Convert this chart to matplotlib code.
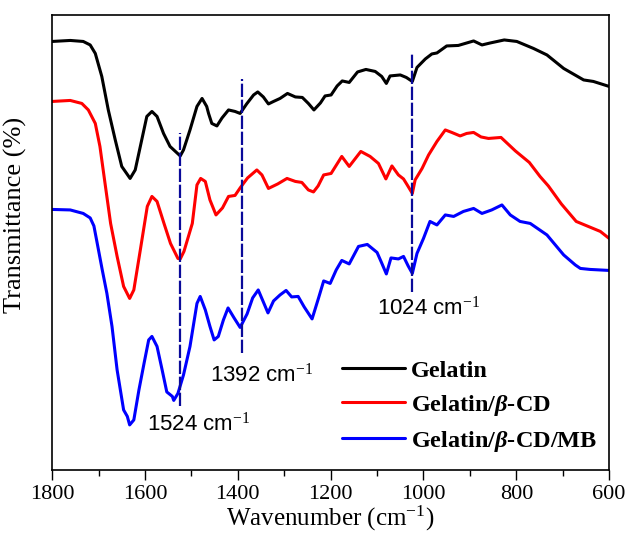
import numpy as np
import matplotlib
matplotlib.use("Agg")
import matplotlib.pyplot as plt
from matplotlib.ticker import MultipleLocator

plt.rcParams['font.family'] = ['Liberation Serif', 'DejaVu Serif']
plt.rcParams['mathtext.fontset'] = 'custom'
plt.rcParams['mathtext.rm'] = 'Liberation Serif'
plt.rcParams['mathtext.it'] = 'Liberation Serif:italic:bold'
plt.rcParams['mathtext.bf'] = 'Liberation Serif:bold'

# FTIR spectra (transmittance in arbitrary, offset units)
wn_gel = [1800, 1761, 1733, 1718, 1707, 1693, 1679, 1664, 1650, 1632, 1621, 1610,
          1596, 1585, 1574, 1560, 1546, 1524, 1517, 1503, 1488, 1477, 1467, 1463,
          1456, 1445, 1434, 1420, 1406, 1395, 1381, 1366, 1357, 1345, 1334, 1323,
          1309, 1293, 1276, 1261, 1248, 1236, 1222, 1212, 1199, 1186, 1175, 1160,
          1142, 1124, 1104, 1090, 1080, 1072, 1050, 1037, 1024, 1014, 996, 982,
          971, 950, 925, 914, 892, 874, 856, 826, 799, 763, 734, 698, 655, 634, 600]
t_gel = [85.7, 85.9, 85.7, 85.0, 83.3, 78.7, 72.0, 66.0, 60.7, 58.3, 60.0, 64.7,
         70.7, 71.7, 70.7, 67.3, 64.7, 62.8, 64.0, 68.0, 72.7, 74.3, 72.7, 71.3,
         69.3, 68.8, 70.4, 72.0, 71.7, 71.3, 73.2, 75.0, 75.6, 74.6, 73.2, 73.7,
         74.3, 75.3, 74.6, 74.5, 73.3, 72.0, 73.4, 74.8, 75.0, 76.8, 77.8, 77.5,
         79.6, 80.1, 79.7, 78.7, 77.3, 78.8, 79.0, 78.5, 77.7, 80.5, 82.2, 83.2,
         83.4, 84.8, 84.9, 85.2, 85.8, 85.0, 85.4, 86.0, 85.7, 84.3, 83.0, 80.3,
         78.0, 77.7, 76.7]

wn_cd = [1800, 1761, 1736, 1722, 1707, 1697, 1686, 1674, 1660, 1646, 1633, 1624,
         1610, 1595, 1585, 1574, 1559, 1545, 1529, 1524, 1516, 1498, 1488, 1480,
         1470, 1460, 1447, 1433, 1420, 1406, 1395, 1379, 1359, 1348, 1334, 1314,
         1294, 1276, 1262, 1248, 1237, 1227, 1215, 1199, 1176, 1160, 1135, 1115,
         1097, 1081, 1068, 1054, 1043, 1035, 1024, 1018, 1003, 989, 971, 953,
         939, 921, 907, 892, 876, 860, 833, 802, 772, 749, 731, 703, 671, 645,
         619, 600]
t_cd = [73.7, 73.9, 73.3, 72.0, 69.3, 64.7, 57.3, 49.3, 42.7, 36.7, 34.3, 36.0,
        44.0, 52.7, 54.7, 53.7, 49.3, 45.3, 42.3, 42.2, 43.7, 49.3, 57.0, 58.3,
        57.7, 54.0, 51.0, 52.4, 54.7, 54.9, 56.4, 58.4, 60.0, 59.0, 56.3, 57.2,
        58.3, 57.7, 57.5, 56.0, 55.6, 56.8, 59.0, 59.3, 62.7, 60.7, 63.7, 62.7,
        61.3, 58.2, 60.8, 59.0, 58.2, 57.0, 55.3, 58.0, 60.3, 63.0, 65.7, 68.0,
        67.5, 66.8, 67.3, 67.5, 66.6, 66.3, 66.5, 63.8, 61.5, 58.7, 56.8, 53.2,
        49.7, 48.7, 47.7, 46.3]

wn_mb = [1800, 1761, 1733, 1718, 1710, 1703, 1692, 1682, 1671, 1660, 1653, 1646,
         1638, 1633, 1624, 1613, 1602, 1592, 1585, 1574, 1563, 1553, 1541, 1538,
         1529, 1517, 1503, 1488, 1481, 1470, 1460, 1451, 1442, 1431, 1421, 1408,
         1395, 1380, 1368, 1356, 1345, 1335, 1323, 1309, 1296, 1284, 1270, 1257,
         1240, 1226, 1215, 1201, 1188, 1176, 1160, 1140, 1121, 1100, 1091, 1080,
         1070, 1054, 1043, 1033, 1024, 1014, 1000, 986, 971, 953, 935, 914, 892,
         874, 853, 831, 813, 792, 770, 734, 698, 673, 662, 641, 600]
t_mb = [52.1, 52.0, 51.3, 50.4, 48.8, 45.4, 40.0, 35.3, 28.7, 20.0, 16.0, 12.0,
        10.7, 9.0, 10.0, 16.0, 21.3, 26.0, 26.7, 24.7, 20.0, 15.6, 14.7, 13.9,
        15.3, 19.0, 24.7, 33.3, 34.7, 32.0, 28.7, 26.0, 26.7, 30.0, 32.4, 30.4,
        28.5, 31.2, 34.4, 36.0, 33.6, 31.4, 33.8, 35.0, 35.9, 34.6, 34.7, 32.6,
        30.2, 34.4, 37.8, 37.3, 40.0, 41.9, 41.2, 44.7, 45.1, 43.5, 41.6, 39.2,
        42.4, 42.2, 42.7, 40.8, 39.3, 43.3, 46.3, 49.7, 49.0, 51.0, 50.7, 51.7,
        52.3, 51.3, 52.0, 53.0, 51.0, 49.7, 49.3, 47.0, 43.0, 41.0, 40.3, 40.1,
        39.9]

labels = ['Gelatin', r'Gelatin/$\beta$-CD', r'Gelatin/$\beta$-CD/MB']
colors = ['black', 'red', 'blue']

# marked bands: position, line top, line bottom, label spot
peaks = [1524, 1392, 1024]
peak_top = [67.4, 78.2, 83.2]
peak_bottom = [12.8, 23.4, 35.6]
peak_text_x = [1595, 1460, 1100]
peak_text_y = [7.8, 17.6, 31.0]

fig = plt.figure(figsize=(6.28, 5.34), dpi=100)
ax = fig.add_axes([0.083, 0.12, 0.887, 0.852])

for x, y, c, lab in zip([wn_gel, wn_cd, wn_mb], [t_gel, t_cd, t_mb], colors, labels):
    ax.plot(x, y, color=c, lw=2.2, label=lab, solid_joinstyle='round',
            solid_capstyle='round')

for p, y0, y1, tx, ty in zip(peaks, peak_top, peak_bottom, peak_text_x, peak_text_y):
    ax.plot([p, p], [y1, y0], color='#0A0A9A', lw=1.6, linestyle=(0, (6, 1.2)))
    ax.text(tx, ty, '%d cm$^{-1}$' % p, family=['Liberation Sans', 'DejaVu Sans'],
            fontsize=16, ha='left', va='baseline')

ax.set_xlim(1800, 600)
ax.set_ylim(0, 91)
ax.xaxis.set_major_locator(MultipleLocator(200))
ax.xaxis.set_minor_locator(MultipleLocator(100))
ax.set_yticks([])
ax.tick_params(axis='x', which='major', direction='out', length=7, width=1, labelsize=16)
ax.tick_params(axis='x', which='minor', direction='out', length=4, width=1)
for s in ax.spines.values():
    s.set_linewidth(1.2)

ax.set_xlabel('Wavenumber (cm$^{-1}$)', fontsize=18, labelpad=0)
ax.set_ylabel('Transmittance (%)', fontsize=19)
ax.yaxis.set_label_coords(-0.045, 0.56)

ax.legend(loc='center left', bbox_to_anchor=(0.52, 0.139), frameon=False,
          prop={'weight': 'bold', 'size': 17.5}, borderpad=0, borderaxespad=0,
          handlelength=2.6, handletextpad=0.25, labelspacing=0.45)

fig.savefig('out.png', dpi=100)
